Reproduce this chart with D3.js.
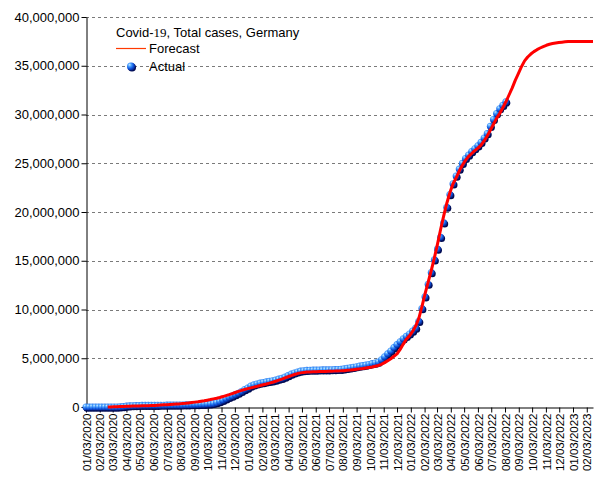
<!DOCTYPE html>
<html>
<head>
<meta charset="utf-8">
<script src="https://cdn.jsdelivr.net/npm/d3@7/dist/d3.min.js"></script>
<style>
  html, body { margin: 0; padding: 0; background: #ffffff; }
  svg { display: block; }
  text { font-family: "Liberation Sans", Arial, sans-serif; }
</style>
</head>
<body>
<svg id="chart" width="605" height="480"></svg>
<script>
// ---------------- DATA ----------------
const chartTitle = "Covid-19, Total cases, Germany";
const seriesNames = ["Forecast", "Actual"];

// weekly series, first point on 2020-01-03, one point every 7 days
const actualStart = "2020-01-03";
const forecastStart = "2020-02-21";
const stepDays = 7;

// Actual total cases (weekly)
const actualCases = [
  0, 0, 0, 0, 1, 12, 16, 16, 60, 700,
  4000, 20000, 50000, 90000, 118000, 140000, 153000, 162000, 169000, 173000,
  176000, 179000, 182000, 185000, 188000, 191000, 194000, 197000, 200000, 204000,
  210000, 216000, 224000, 232000, 241000, 250000, 259000, 270000, 282000, 300000,
  325000, 370000, 450000, 560000, 700000, 850000, 1000000, 1130000, 1270000, 1420000,
  1600000, 1800000, 1950000, 2150000, 2270000, 2370000, 2450000, 2520000, 2580000, 2640000,
  2700000, 2770000, 2860000, 2950000, 3070000, 3220000, 3380000, 3500000, 3600000, 3680000,
  3730000, 3760000, 3780000, 3790000, 3800000, 3805000, 3810000, 3815000, 3820000, 3830000,
  3840000, 3855000, 3870000, 3920000, 3970000, 4030000, 4080000, 4140000, 4200000, 4250000,
  4300000, 4370000, 4450000, 4520000, 4620000, 4850000, 5150000, 5450000, 5750000, 6100000,
  6400000, 6700000, 7000000, 7250000, 7500000, 7800000, 8100000, 8800000, 10100000, 11300000,
  12600000, 13800000, 15100000, 16200000, 17400000, 18900000, 20500000, 21800000, 22900000, 23700000,
  24400000, 25000000, 25500000, 25850000, 26200000, 26500000, 26800000, 27150000, 27600000, 28050000,
  28800000, 29500000, 30100000, 30600000, 30950000, 31300000
];

// Forecast total cases (weekly)
const forecastCases = [
  0, 10000, 20000, 30000, 50000, 60000, 70000, 80000, 90000, 100000,
  110000, 120000, 130000, 140000, 150000, 160000, 180000, 200000, 220000, 240000,
  260000, 280000, 300000, 320000, 350000, 380000, 420000, 460000, 500000, 540000,
  590000, 640000, 700000, 760000, 830000, 900000, 980000, 1070000, 1170000, 1270000,
  1380000, 1490000, 1600000, 1700000, 1800000, 1880000, 1960000, 2040000, 2120000, 2200000,
  2280000, 2360000, 2450000, 2540000, 2640000, 2750000, 2860000, 2980000, 3100000, 3220000,
  3330000, 3430000, 3500000, 3550000, 3580000, 3600000, 3610000, 3620000, 3630000, 3640000,
  3650000, 3660000, 3670000, 3680000, 3700000, 3710000, 3730000, 3760000, 3790000, 3830000,
  3870000, 3910000, 3950000, 4000000, 4050000, 4100000, 4180000, 4260000, 4380000, 4550000,
  4750000, 4950000, 5200000, 5450000, 5900000, 6450000, 6950000, 7300000, 7750000, 8300000,
  9100000, 10300000, 11600000, 12800000, 14000000, 15300000, 16700000, 18200000, 19600000, 20900000,
  22000000, 22900000, 23500000, 24200000, 24800000, 25300000, 25700000, 26000000, 26300000, 26550000,
  26850000, 27300000, 27800000, 28400000, 29000000, 29600000, 30100000, 30700000, 31300000, 32000000,
  32700000, 33500000, 34200000, 34900000, 35500000, 35900000, 36200000, 36450000, 36650000, 36820000,
  36970000, 37100000, 37200000, 37280000, 37330000, 37380000, 37420000, 37450000, 37480000, 37500000,
  37500000, 37500000, 37500000, 37500000, 37500000, 37500000, 37500000
];

const yTicks = [0, 5000000, 10000000, 15000000, 20000000, 25000000, 30000000, 35000000, 40000000];
const xTickLabels = [
  "01/03/2020","02/03/2020","03/03/2020","04/03/2020","05/03/2020","06/03/2020",
  "07/03/2020","08/03/2020","09/03/2020","10/03/2020","11/03/2020","12/03/2020",
  "01/03/2021","02/03/2021","03/03/2021","04/03/2021","05/03/2021","06/03/2021",
  "07/03/2021","08/03/2021","09/03/2021","10/03/2021","11/03/2021","12/03/2021",
  "01/03/2022","02/03/2022","03/03/2022","04/03/2022","05/03/2022","06/03/2022",
  "07/03/2022","08/03/2022","09/03/2022","10/03/2022","11/03/2022","12/03/2022",
  "01/03/2023","02/03/2023"
];
const xDomain = ["2020-01-03", "2023-02-17"];

// ---------------- CHART ----------------
const svg = d3.select("#chart");
const margin = { left: 86, right: 12, top: 17, bottom: 73 };
const W = 605, H = 480;
const parse = d3.utcParse("%Y-%m-%d");
const parseTick = d3.utcParse("%m/%d/%Y");
const fmt = d3.format(",");

const x = d3.scaleUtc()
  .domain(xDomain.map(parse))
  .range([margin.left, W - margin.right]);
const y = d3.scaleLinear()
  .domain([0, 40000000])
  .range([H - margin.bottom - 0, margin.top]);

const addDays = (d, n) => new Date(d.getTime() + n * 86400000);
const a0 = parse(actualStart), f0 = parse(forecastStart);
const actual = actualCases.map((v, i) => ({ date: addDays(a0, i * stepDays), value: v }));
const forecast = forecastCases.map((v, i) => ({ date: addDays(f0, i * stepDays), value: v }));

// gradient for sphere markers
const defs = svg.append("defs");
const grad = defs.append("radialGradient")
  .attr("id", "ball").attr("cx", "35%").attr("cy", "32%").attr("r", "70%")
  .attr("fx", "32%").attr("fy", "28%");
grad.append("stop").attr("offset", "0%").attr("stop-color", "#c8ecff");
grad.append("stop").attr("offset", "30%").attr("stop-color", "#4aa0ff");
grad.append("stop").attr("offset", "70%").attr("stop-color", "#0c4fd8");
grad.append("stop").attr("offset", "100%").attr("stop-color", "#06248a");

// gridlines
svg.append("g").selectAll("line")
  .data(yTicks.filter(d => d > 0))
  .join("line")
  .attr("x1", margin.left).attr("x2", W - margin.right)
  .attr("y1", d => Math.round(y(d)) + 0.5).attr("y2", d => Math.round(y(d)) + 0.5)
  .attr("stroke", "#7a7a7a").attr("stroke-width", 1)
  .attr("stroke-dasharray", "3,3");

// y axis
const yAxis = svg.append("g")
  .attr("transform", `translate(${margin.left + 0.5},0)`)
  .call(d3.axisLeft(y).tickValues(yTicks).tickFormat(fmt).tickSize(5).tickSizeOuter(0));
yAxis.select(".domain").attr("stroke", "#000");
yAxis.selectAll(".tick line").attr("stroke", "#000");
yAxis.selectAll(".tick text")
  .attr("x", -7)
  .style("font-family", "'Liberation Sans', Arial, sans-serif")
  .style("font-size", "13px").attr("fill", "#000");

// x axis
const xAxis = svg.append("g")
  .attr("transform", `translate(0,${H - margin.bottom + 0.5})`)
  .call(d3.axisBottom(x)
    .tickValues(xTickLabels.map(parseTick))
    .tickFormat(d3.utcFormat("%m/%d/%Y"))
    .tickSize(5).tickSizeOuter(0));
xAxis.select(".domain").attr("stroke", "#000");
xAxis.selectAll(".tick line").attr("stroke", "#000");
xAxis.selectAll(".tick text")
  .style("font-family", "'Liberation Sans', Arial, sans-serif")
  .style("font-size", "11.5px").attr("fill", "#000")
  .attr("text-anchor", "end")
  .attr("transform", "rotate(-90)")
  .attr("x", -6).attr("y", 0).attr("dy", "0.36em");

// actual markers
const R = 3.5;
const pts = svg.append("g");
pts.selectAll("circle.sh").data(actual).join("circle")
  .attr("class", "sh")
  .attr("cx", d => x(d.date) + 1).attr("cy", d => y(d.value) + 1.2)
  .attr("r", R).attr("fill", "#000a50");
pts.selectAll("circle.ball").data(actual).join("circle")
  .attr("class", "ball")
  .attr("cx", d => x(d.date)).attr("cy", d => y(d.value))
  .attr("r", R).attr("fill", "url(#ball)");

// forecast line
svg.append("path")
  .datum(forecast)
  .attr("fill", "none")
  .attr("stroke", "#ff0000")
  .attr("stroke-width", 3)
  .attr("stroke-linejoin", "round")
  .attr("d", d3.line().x(d => x(d.date)).y(d => y(d.value)));

// legend
const lg = svg.append("g");
const title = lg.append("text").attr("x", 116).attr("y", 37)
  .style("font-size", "13px").attr("fill", "#000");
title.append("tspan").text("Covid-");
title.append("tspan").style("font-family", "'Liberation Serif', 'DejaVu Serif', serif").text("19");
title.append("tspan").text(", Total cases, Germany");

lg.append("line").attr("x1", 116).attr("x2", 146).attr("y1", 48.5).attr("y2", 48.5)
  .attr("stroke", "#ff3a00").attr("stroke-width", 1.2);
lg.append("text").attr("x", 149).attr("y", 53).style("font-size", "13px")
  .attr("fill", "#000").text(seriesNames[0]);

lg.append("circle").attr("cx", 132).attr("cy", 67.5).attr("r", 4).attr("fill", "#000a50");
lg.append("circle").attr("cx", 131).attr("cy", 66.5).attr("r", 4).attr("fill", "url(#ball)");
lg.append("text").attr("x", 149).attr("y", 71).style("font-size", "13px")
  .attr("fill", "#000").text(seriesNames[1]);
</script>
</body>
</html>
